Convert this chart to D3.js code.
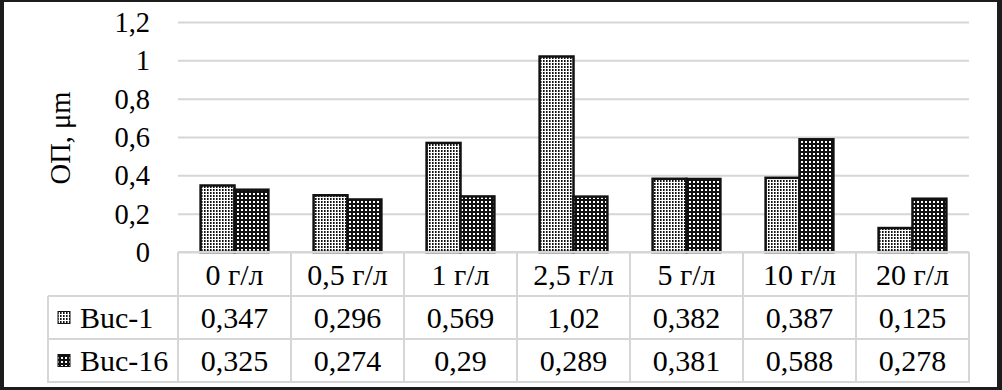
<!DOCTYPE html>
<html lang="ru">
<head>
    <meta charset="UTF-8">
    <title>ОП</title>
    <script src="https://cdn.jsdelivr.net/npm/d3@7"></script>
    <style>
        body { margin: 0; background: #fff; }
        .tick-text { font-family: "Liberation Serif", "Times New Roman", serif; font-size: 28.5px; fill: #000; }
        .cell-text { font-family: "Liberation Serif", "Times New Roman", serif; font-size: 30px; fill: #000; }
    </style>
</head>
<body>
<div id="container"></div>
<script>
    const categories = ['0 г/л', '0,5 г/л', '1 г/л', '2,5 г/л', '5 г/л', '10 г/л', '20 г/л'];
    const seriesNames = ['Buc-1', 'Buc-16'];
    const buc1 = [0.347, 0.296, 0.569, 1.02, 0.382, 0.387, 0.125];
    const buc16 = [0.325, 0.274, 0.29, 0.289, 0.381, 0.588, 0.278];
    const buc1Labels = ['0,347', '0,296', '0,569', '1,02', '0,382', '0,387', '0,125'];
    const buc16Labels = ['0,325', '0,274', '0,29', '0,289', '0,381', '0,588', '0,278'];
    const yTicks = [0, 0.2, 0.4, 0.6, 0.8, 1, 1.2];

    const w = 1002, h = 390;
    const plotLeft = 178, plotRight = 969, plotTop = 22, plotBottom = 252;
    const tableLeft = 48;
    const rowEdges = [252, 296, 339, 382];
    const gridColor = '#d6d6d6';

    const svg = d3.select('#container').append('svg')
        .attr('width', w).attr('height', h);

    // patterns
    const defs = svg.append('defs');
    const p1 = defs.append('pattern').attr('id', 'pat1')
        .attr('patternUnits', 'userSpaceOnUse').attr('width', 3).attr('height', 3);
    p1.append('rect').attr('width', 3).attr('height', 3).attr('fill', '#fff');
    p1.append('rect').attr('width', 1.6).attr('height', 2).attr('fill', '#111');
    const p2 = defs.append('pattern').attr('id', 'pat2')
        .attr('patternUnits', 'userSpaceOnUse').attr('width', 4).attr('height', 4);
    p2.append('rect').attr('width', 4).attr('height', 4).attr('fill', '#111');
    p2.append('rect').attr('x', 1).attr('y', 1).attr('width', 2).attr('height', 2).attr('fill', '#fff');
    const fills = ['url(#pat1)', 'url(#pat2)'];

    // frame
    svg.append('rect').attr('width', w).attr('height', h).attr('fill', '#1c1c1c');
    svg.append('rect').attr('x', 4).attr('y', 2).attr('width', 993).attr('height', 385).attr('fill', '#fff');

    const x0 = d3.scaleBand().domain(d3.range(categories.length))
        .range([plotLeft, plotRight]).paddingInner(0.4).paddingOuter(0.2);
    const x1 = d3.scaleBand().domain([0, 1]).range([0, x0.bandwidth()]);
    const y = d3.scaleLinear().domain([0, 1.2]).range([plotBottom, plotTop]);

    // gridlines
    const yAxis = d3.axisLeft(y).tickValues(yTicks)
        .tickSize(-(plotRight - plotLeft))
        .tickFormat(d => String(d).replace('.', ','));
    const yg = svg.append('g').attr('transform', `translate(${plotLeft},0)`).call(yAxis)
        .attr('font-size', null).attr('font-family', null);
    yg.select('.domain').remove();
    yg.selectAll('.tick line').attr('stroke', gridColor).attr('stroke-width', 2);
    yg.selectAll('.tick text').attr('class', 'tick-text').attr('x', -28).attr('dy', '0.33em');

    svg.append('text').attr('class', 'tick-text')
        .attr('transform', `translate(60,138) rotate(-90)`)
        .attr('text-anchor', 'middle').attr('dy', '0.35em')
        .text('ОП, μm');

    // bars
    const data = [buc1, buc16];
    data.forEach((vals, s) => {
        svg.append('g').selectAll('rect').data(vals).enter().append('rect')
            .attr('x', (d, i) => x0(i) + x1(s))
            .attr('y', d => y(d))
            .attr('width', x1.bandwidth())
            .attr('height', d => y(0) - y(d))
            .attr('fill', fills[s])
            .attr('stroke', '#111')
            .attr('stroke-width', 2.5);
    });

    // data table
    const step = x0.step();
    const colEdges = d3.range(categories.length + 1).map(i => plotLeft + i * step);
    const table = svg.append('g').attr('stroke', gridColor).attr('stroke-width', 2);
    table.append('line').attr('x1', plotLeft).attr('x2', plotRight).attr('y1', rowEdges[0]).attr('y2', rowEdges[0]);
    rowEdges.slice(1).forEach(r => {
        table.append('line').attr('x1', tableLeft).attr('x2', plotRight).attr('y1', r).attr('y2', r);
    });
    colEdges.forEach(c => {
        table.append('line').attr('x1', c).attr('x2', c).attr('y1', rowEdges[0]).attr('y2', rowEdges[3] + 1);
    });
    table.append('line').attr('x1', tableLeft).attr('x2', tableLeft).attr('y1', rowEdges[1]).attr('y2', rowEdges[3] + 1);

    const rowMid = i => (rowEdges[i] + rowEdges[i + 1]) / 2;
    const rows = [categories, buc1Labels, buc16Labels];
    rows.forEach((labels, r) => {
        svg.append('g').selectAll('text').data(labels).enter().append('text')
            .attr('class', 'cell-text')
            .attr('x', (d, i) => x0(i) + x0.bandwidth() / 2)
            .attr('y', rowMid(r))
            .attr('dy', '0.35em')
            .attr('text-anchor', 'middle')
            .text(d => d);
    });

    seriesNames.forEach((name, s) => {
        svg.append('rect')
            .attr('x', 58).attr('y', rowMid(s + 1) - 6)
            .attr('width', 12).attr('height', 12)
            .attr('fill', fills[s]).attr('stroke', '#111').attr('stroke-width', 1);
        svg.append('text').attr('class', 'cell-text')
            .attr('x', 80).attr('y', rowMid(s + 1)).attr('dy', '0.35em')
            .text(name);
    });
</script>
</body>
</html>
